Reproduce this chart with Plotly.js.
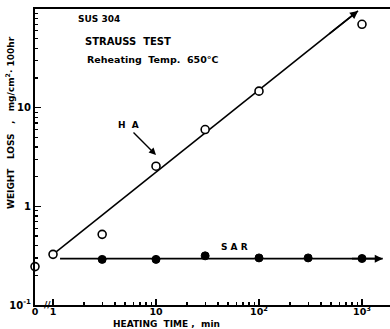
<!DOCTYPE html>
<html>
<head>
<meta charset="utf-8">
<script src="https://cdn.plot.ly/plotly-3.0.1.min.js"></script>
<style>html,body{margin:0;padding:0;background:#fff;}#chart{width:390px;height:329px;}</style>
</head>
<body>
<div id="chart"></div>
<script>
// ---- data ----
const TIME_HA = [0, 1, 3, 10, 30, 100, 1000];
const LOSS_HA = [0.245, 0.326, 0.52, 2.55, 6.0, 14.7, 70];
const TIME_SAR = [3, 10, 30, 100, 300, 1000];
const LOSS_SAR = [0.29, 0.29, 0.315, 0.30, 0.30, 0.296];
const HA_FIT_T = [1.05, 915];
const HA_FIT_W = [0.34, 95.5];
const SAR_FIT_T = [1.17, 1590];
const SAR_FIT_W = [0.295, 0.295];
const X_TICK_VALS = [0, 1, 10, 100, 1000];
const X_TICK_TEXT = ['0', '1', '10', '10<sup>2</sup>', '10<sup>3</sup>'];
const Y_TICK_VALS = [0.1, 1, 10];
const Y_TICK_TEXT = ['10<sup>-1</sup>', '1', '10'];

// ---- layout constants ----
const W = 390, H = 329;
const M = {l: 35, r: 0, t: 9, b: 24};
const X_LOG_MIN = -0.175, X_LOG_MAX = 3.272;
const X_ZERO = Math.pow(10, X_LOG_MIN); // "0" sits at the axis origin
const mapT = t => t === 0 ? X_ZERO : t;
const FONT = 'DejaVu Sans, Liberation Sans, sans-serif';

const minorX = [];
for (let d = 1; d <= 1000; d *= 10) for (let k = 2; k <= 9; k++) if (d * k < 1800) minorX.push(d * k);
const minorY = [];
for (let d = 0.1; d < 50; d *= 10) for (let k = 2; k <= 9; k++) minorY.push(+(d * k).toPrecision(3));

const px = p => (p - M.l) / (W - M.l - M.r);
const py = p => (H - M.b - p) / (H - M.t - M.b);
const L = Math.log10;

const traces = [
  {x: HA_FIT_T, y: HA_FIT_W, mode: 'lines', line: {color: '#000', width: 1.6}, hoverinfo: 'skip'},
  {x: SAR_FIT_T, y: SAR_FIT_W, mode: 'lines', line: {color: '#000', width: 1.6}, hoverinfo: 'skip'},
  {x: TIME_HA.map(mapT), y: LOSS_HA, mode: 'markers', cliponaxis: false,
   marker: {symbol: 'circle', size: 8, color: '#fff', line: {color: '#000', width: 1.6}}},
  {x: TIME_SAR, y: LOSS_SAR, mode: 'markers', cliponaxis: false,
   marker: {symbol: 'circle', size: 8, color: '#000', line: {color: '#000', width: 1}}}
];

const arrowHead = (tx, ty, frac) => {
  const x1 = L(tx[1]), y1 = L(ty[1]);
  const x0 = L(tx[0]), y0 = L(ty[0]);
  return {x: x1, y: y1, xref: 'x', yref: 'y', axref: 'x', ayref: 'y',
    ax: x1 - (x1 - x0) * frac, ay: y1 - (y1 - y0) * frac, text: '', showarrow: true,
    arrowhead: 2, arrowsize: 1, arrowwidth: 1.6, arrowcolor: '#000'};
};

const tf = (s) => ({family: FONT, size: s, color: '#000', weight: 'bold'});

const annotations = [
  arrowHead(HA_FIT_T, HA_FIT_W, 0.1),
  arrowHead(SAR_FIT_T, SAR_FIT_W, 0.1),
  {xref: 'paper', yref: 'paper', x: px(76), y: py(19), xanchor: 'left', yanchor: 'middle', text: 'SUS 304', showarrow: false, font: tf(9)},
  {xref: 'paper', yref: 'paper', x: px(83), y: py(41), xanchor: 'left', yanchor: 'middle', text: 'STRAUSS  TEST', showarrow: false, font: tf(10)},
  {xref: 'paper', yref: 'paper', x: px(85), y: py(59), xanchor: 'left', yanchor: 'middle', text: 'Reheating  Temp.  650°C', showarrow: false, font: tf(9.5)},
  {xref: 'paper', yref: 'paper', x: px(128), y: py(125), xanchor: 'center', yanchor: 'middle', text: 'H  A', showarrow: false, font: tf(9)},
  {xref: 'paper', yref: 'paper', x: px(156), y: py(155), text: '', showarrow: true, ax: -24, ay: -24,
   arrowhead: 2, arrowsize: 1, arrowwidth: 1.4, arrowcolor: '#000'},
  {xref: 'paper', yref: 'paper', x: px(234), y: py(247), xanchor: 'center', yanchor: 'middle', text: 'S A R', showarrow: false, font: tf(9)},
  {xref: 'paper', yref: 'paper', x: px(47), y: py(305), xanchor: 'center', yanchor: 'middle', text: '//', showarrow: false, font: tf(9)},
  {xref: 'paper', yref: 'paper', x: px(10), y: py(123), xanchor: 'center', yanchor: 'middle', textangle: -90,
   text: 'WEIGHT   LOSS   ,   mg/cm<sup>2</sup>· 100hr', showarrow: false, font: tf(9)},
  {xref: 'paper', yref: 'paper', x: px(166), y: py(324), xanchor: 'center', yanchor: 'middle',
   text: 'HEATING  TIME ,  min', showarrow: false, font: tf(9)}
];

const layout = {
  width: W, height: H, margin: M, showlegend: false,
  paper_bgcolor: '#fff', plot_bgcolor: '#fff',
  font: {family: FONT, color: '#000'},
  xaxis: {type: 'log', range: [X_LOG_MIN, X_LOG_MAX], showgrid: false, zeroline: false,
    showline: true, linecolor: '#000', linewidth: 2, mirror: true,
    ticks: 'inside', ticklen: 6, tickwidth: 1.3, tickcolor: '#000',
    tickmode: 'array', tickvals: X_TICK_VALS.map(mapT), ticktext: X_TICK_TEXT,
    tickfont: tf(9.5), ticklabelstandoff: -3,
    minor: {tickmode: 'array', tickvals: minorX, ticks: 'inside', ticklen: 3, tickwidth: 1.2, tickcolor: '#000', showgrid: false}},
  yaxis: {type: 'log', range: [-1, 2], showgrid: false, zeroline: false,
    showline: true, linecolor: '#000', linewidth: 2,
    ticks: 'inside', ticklen: 6, tickwidth: 1.3, tickcolor: '#000',
    tickmode: 'array', tickvals: Y_TICK_VALS, ticktext: Y_TICK_TEXT,
    tickfont: tf(10), ticklabelstandoff: 0,
    minor: {tickmode: 'array', tickvals: minorY, ticks: 'inside', ticklen: 3, tickwidth: 1.2, tickcolor: '#000', showgrid: false}},
  annotations: annotations
};

Plotly.newPlot('chart', traces, layout, {displayModeBar: false, staticPlot: true});
</script>
</body>
</html>
